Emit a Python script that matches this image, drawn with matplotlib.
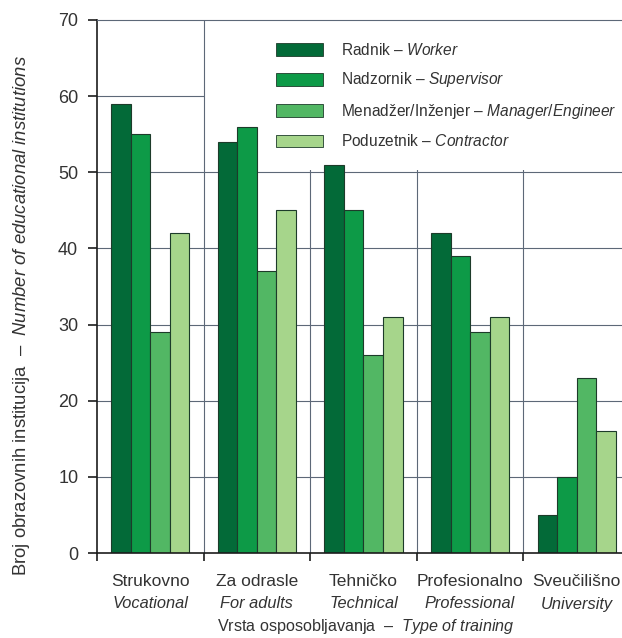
import matplotlib
matplotlib.use("Agg")
import matplotlib.pyplot as plt
from matplotlib.patches import Rectangle, Patch
import numpy as np

FONT = ["Liberation Sans", "DejaVu Sans"]
plt.rcParams["font.family"] = FONT
plt.rcParams["mathtext.fontset"] = "custom"
plt.rcParams["mathtext.rm"] = "Liberation Sans"
plt.rcParams["mathtext.it"] = "Liberation Sans:italic"
plt.rcParams["mathtext.bf"] = "Liberation Sans:bold"

# --- data -------------------------------------------------------------
categories_hr = ["Strukovno", "Za odrasle", "Tehničko", "Profesionalno", "Sveučilišno"]
categories_en = ["Vocational", "For adults", "Technical", "Professional", "University"]

series_hr = ["Radnik", "Nadzornik", "Menadžer/Inženjer", "Poduzetnik"]
series_en = ["Worker", "Supervisor", "Manager/Engineer", "Contractor"]

worker = [59, 54, 51, 42, 5]
supervisor = [55, 56, 45, 39, 10]
manager = [29, 37, 26, 29, 23]
contractor = [42, 45, 31, 31, 16]

colors = ["#036a38", "#0d9a47", "#52b764", "#a6d58b"]
yticks = [0, 10, 20, 30, 40, 50, 60, 70]

# --- figure -----------------------------------------------------------
W, H = 622, 638
fig = plt.figure(figsize=(W / 100, H / 100), dpi=100)
ax = fig.add_axes([97 / W, 1 - 553 / H, 1 - 97 / W, (553 - 20) / H])

text_col = "#333333"
grid_col = "#5d6878"
dark = "#1c1c1c"

n = len(categories_hr)
x = np.arange(n)
bw = 0.183
values = [worker, supervisor, manager, contractor]
for k, (vals, col) in enumerate(zip(values, colors)):
    ax.bar(x + (k - 1.5) * bw, vals, width=bw, color=col,
           edgecolor="#1d3b2a", linewidth=0.8, zorder=2)

ax.set_xlim(-0.5, 4.425)
ax.set_ylim(0, 70)

# grid
for yv in yticks[1:-1]:
    ax.axhline(yv, color=grid_col, lw=0.8, zorder=0.5)
for xv in x[:-1] + 0.5:
    ax.axvline(xv, color=grid_col, lw=0.8, zorder=1.5 if xv == 0.5 else 0.5)

# blank area behind the legend
ax.add_patch(Rectangle((0.515, 50.25), 4.0, 19.6, facecolor="white",
                       edgecolor="none", zorder=1))

# spines & ticks
for s in ["left", "bottom"]:
    ax.spines[s].set_color(dark)
    ax.spines[s].set_linewidth(1.2)
ax.spines["right"].set_visible(False)
ax.spines["top"].set_color(grid_col)
ax.spines["top"].set_linewidth(0.8)

ax.set_yticks(yticks)
ax.set_xticks(list(x - 0.5))
ax.set_xticklabels([])
ax.tick_params(axis="y", length=6.5, width=1.2, color=dark, pad=7,
               labelsize=13, labelcolor=text_col)
ax.tick_params(axis="x", length=6, width=1.2, color=dark)

# category labels
for i in range(n):
    ax.text(i, -28 / 533, categories_hr[i], transform=ax.get_xaxis_transform(),
            ha="center", va="center", fontsize=12.5, color=text_col)
    ax.text(i, -51 / 533, categories_en[i], transform=ax.get_xaxis_transform(),
            ha="center", va="center", fontsize=11.8, color=text_col, style="italic")

# axis titles
fig.text(366 / W, 1 - 627 / H,
         r"Vrsta osposobljavanja  –  $\mathit{Type\ of\ training}$",
         ha="center", va="center", fontsize=11.6, color=text_col)
fig.text(22 / W, 1 - 316 / H,
         r"Broj obrazovnih institucija  –  $\mathit{Number\ of\ educational\ institutions}$",
         ha="center", va="center", rotation=90, fontsize=13.3, color=text_col)

# legend
handles = [Patch(facecolor=c, edgecolor="#1d3b2a", linewidth=0.6) for c in colors]
labels = [f"{h} – $\\mathit{{{e}}}$" for h, e in zip(series_hr, series_en)]
ax.legend(handles, labels, loc="upper left",
          bbox_to_anchor=(276 / W, 1 - 42 / H), bbox_transform=fig.transFigure,
          frameon=False, borderpad=0, borderaxespad=0, fontsize=11.2,
          handlelength=3.0, handleheight=0.9, handletextpad=1.15,
          labelspacing=0.8, labelcolor=text_col)

fig.savefig("out.png", dpi=100, facecolor="white")
